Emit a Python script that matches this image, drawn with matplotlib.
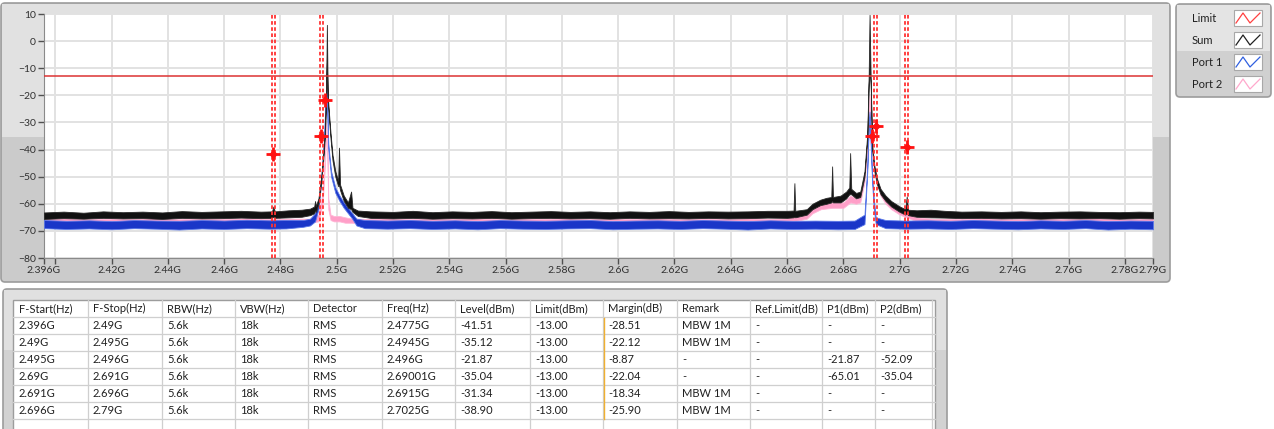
import numpy as np
import matplotlib
matplotlib.use('Agg')
import matplotlib.pyplot as plt
from matplotlib.patches import FancyBboxPatch, Rectangle

plt.rcParams['font.family'] = ['Lato', 'DejaVu Sans']

# Sweep traces, GHz / dBm. Each trace is kept as the min/max envelope of the sweep.
sum_freq = [
    2.396, 2.403, 2.410, 2.417, 2.424, 2.431, 2.438, 2.445, 2.452, 2.459, 2.466, 2.473,
    2.4770, 2.4775, 2.4780, 2.483, 2.4875, 2.4905, 2.4920, 2.4923, 2.4926, 2.4935,
    2.4945, 2.4952, 2.4958, 2.4962, 2.4965, 2.4968, 2.4972, 2.4978, 2.4985, 2.4995,
    2.5005, 2.5008, 2.5012, 2.5025, 2.5040, 2.5051, 2.5056, 2.5075,
    2.512, 2.520, 2.527, 2.534, 2.541, 2.548, 2.555, 2.562, 2.569, 2.576, 2.583, 2.590,
    2.597, 2.604, 2.611, 2.618, 2.625, 2.632, 2.639, 2.646, 2.653, 2.660,
    2.6623, 2.6626, 2.6629, 2.6670, 2.6690, 2.6718, 2.6740, 2.6757, 2.6760, 2.6763,
    2.6790, 2.6810, 2.6821, 2.6824, 2.6828, 2.6845, 2.6860, 2.6875, 2.6885, 2.6890,
    2.6893, 2.6897, 2.6902, 2.6910, 2.6920, 2.6932, 2.6950, 2.6970, 2.7000, 2.7020,
    2.7025, 2.7030, 2.706, 2.711, 2.716, 2.722, 2.729, 2.736, 2.743, 2.750,
    2.757, 2.764, 2.771, 2.778, 2.785, 2.790]
sum_min = [
    -65.6, -65.3, -65.5, -65.2, -65.4, -65.3, -65.6, -65.2, -65.4, -65.3, -65.1, -65.3,
    -65.2, -64.8, -65.2, -65.0, -64.8, -64.2, -63.5, -62.5, -63.0, -60.0,
    -52.0, -44.0, -35.0, -22.0, -8.0, -22.0, -28.0, -36.0, -44.0, -50.0,
    -53.5, -53.0, -55.0, -59.0, -61.5, -62.0, -63.0, -64.5,
    -65.2, -65.4, -65.2, -65.5, -65.3, -65.4, -65.2, -65.5, -65.3, -65.2, -65.4, -65.3,
    -65.5, -65.2, -65.4, -65.3, -65.4, -65.2, -65.4, -65.3, -65.1, -65.2,
    -65.0, -64.8, -65.0, -64.0, -62.0, -60.5, -60.0, -59.5, -59.0, -59.5,
    -59.5, -58.0, -56.5, -56.5, -56.5, -58.0, -57.5, -50.0, -36.0, -16.0,
    -10.0, -16.0, -40.0, -48.0, -53.0, -56.5, -59.0, -61.0, -63.0, -64.0,
    -63.5, -64.2, -64.8, -65.0, -65.1, -65.3, -65.2, -65.4, -65.3, -65.5,
    -65.3, -65.4, -65.3, -65.5, -65.3, -65.4]
sum_max = [
    -63.2, -62.9, -63.3, -62.8, -63.1, -62.9, -63.2, -62.7, -63.0, -62.8, -62.6, -62.9,
    -62.8, -61.0, -62.8, -62.4, -62.2, -61.8, -61.0, -59.0, -60.8, -58.0,
    -50.0, -42.0, -33.0, -20.0, 6.0, -20.0, -26.0, -34.0, -42.0, -48.0,
    -51.5, -39.3, -53.0, -57.0, -59.5, -55.5, -61.5, -62.5,
    -62.8, -63.0, -62.6, -63.1, -62.8, -63.0, -62.7, -63.1, -62.9, -62.7, -63.0, -62.8,
    -63.1, -62.8, -63.0, -62.7, -63.0, -62.8, -62.9, -62.8, -62.6, -62.6,
    -62.5, -52.4, -62.6, -62.0, -60.0, -58.5, -57.8, -57.5, -46.2, -57.5,
    -57.0, -55.5, -54.0, -41.3, -54.5, -56.0, -55.5, -48.0, -34.0, -12.0,
    9.7, -14.0, -38.0, -46.0, -51.0, -54.5, -57.0, -59.0, -61.0, -62.0,
    -57.3, -62.2, -62.4, -62.2, -62.6, -62.9, -62.8, -63.0, -62.8, -63.1,
    -62.9, -62.8, -63.0, -63.1, -62.9, -63.0]

p1_freq = [
    2.396, 2.404, 2.412, 2.420, 2.428, 2.436, 2.444, 2.452, 2.460, 2.468, 2.476, 2.482,
    2.4880, 2.4905, 2.4923, 2.4935, 2.4945, 2.4955, 2.4960, 2.4965, 2.4970, 2.4980,
    2.4995, 2.5010, 2.5025, 2.5040, 2.5055, 2.5070, 2.510, 2.518, 2.526, 2.534,
    2.542, 2.550, 2.558, 2.566, 2.574, 2.582, 2.590, 2.598, 2.606, 2.614,
    2.622, 2.630, 2.638, 2.646, 2.654, 2.662, 2.670, 2.678, 2.684, 2.6875,
    2.6885, 2.6890, 2.6893, 2.6897, 2.6902, 2.6908, 2.6915, 2.695, 2.702, 2.710,
    2.718, 2.726, 2.734, 2.742, 2.750, 2.758, 2.766, 2.774, 2.782, 2.790]
p1_min = [
    -69.0, -69.3, -69.1, -69.4, -69.0, -69.2, -69.5, -69.1, -69.3, -69.0, -69.2, -69.1,
    -68.5, -68.0, -66.5, -62.0, -52.0, -38.0, -24.0, -20.0, -40.0, -50.0,
    -56.0, -59.0, -61.5, -63.5, -65.5, -68.0, -69.0, -69.2, -69.0, -69.3,
    -69.1, -69.4, -69.0, -69.2, -69.3, -69.1, -69.0, -69.4, -69.2, -69.1,
    -69.3, -69.0, -69.2, -69.5, -69.1, -69.3, -69.2, -69.4, -69.3, -67.5,
    -48.0, -32.0, -28.0, -38.0, -52.0, -62.0, -67.5, -69.0, -69.2, -69.1,
    -69.3, -69.0, -69.2, -69.4, -69.1, -69.3, -69.0, -69.5, -69.2, -69.4]
p1_max = [
    -66.0, -66.3, -66.1, -66.4, -66.0, -66.2, -66.3, -66.0, -66.2, -65.9, -66.1, -66.0,
    -66.0, -65.5, -63.5, -60.0, -50.0, -36.0, -21.87, -18.0, -38.0, -48.0,
    -54.0, -57.0, -59.5, -61.5, -63.5, -65.5, -66.0, -66.2, -66.0, -66.3,
    -66.1, -66.4, -66.0, -66.2, -66.3, -66.1, -66.0, -66.4, -66.2, -66.1,
    -66.3, -66.0, -66.2, -66.4, -66.1, -66.3, -66.2, -66.3, -66.2, -64.0,
    -46.0, -30.0, -26.0, -36.0, -50.0, -58.0, -65.0, -66.0, -66.2, -66.1,
    -66.3, -66.0, -66.2, -66.4, -66.1, -66.3, -66.0, -66.4, -66.2, -66.3]

p2_freq = [
    2.396, 2.404, 2.412, 2.420, 2.428, 2.436, 2.444, 2.452, 2.460, 2.468, 2.476, 2.484,
    2.4905, 2.4935, 2.4950, 2.4958, 2.4962, 2.4966, 2.4970, 2.4978, 2.4990, 2.5010,
    2.5030, 2.5050, 2.510, 2.518, 2.526, 2.534, 2.542, 2.550, 2.558, 2.566,
    2.574, 2.582, 2.590, 2.598, 2.606, 2.614, 2.622, 2.630, 2.638, 2.646,
    2.654, 2.660, 2.6670, 2.6690, 2.6720, 2.6760, 2.6800, 2.6825, 2.6845, 2.6860,
    2.6875, 2.6885, 2.6893, 2.6900, 2.6905, 2.6915, 2.6932, 2.6950, 2.6970, 2.7000,
    2.7025, 2.7060, 2.712, 2.720, 2.730, 2.740, 2.750, 2.760, 2.770, 2.780, 2.790]
p2_min = [
    -67.2, -67.0, -67.3, -67.1, -67.2, -67.0, -67.3, -67.1, -67.2, -67.0, -67.2, -67.1,
    -67.0, -66.5, -60.0, -46.0, -34.0, -38.0, -62.0, -66.0, -66.5, -66.5,
    -67.0, -67.0, -67.2, -67.0, -67.3, -67.1, -67.2, -67.0, -67.3, -67.1,
    -67.2, -67.0, -67.3, -67.1, -67.2, -67.0, -67.3, -67.1, -67.2, -67.0,
    -67.2, -67.0, -65.5, -63.5, -62.0, -61.5, -61.5, -59.5, -60.0, -59.5,
    -52.0, -40.0, -30.0, -37.0, -44.0, -51.0, -57.0, -60.0, -62.0, -64.0,
    -65.0, -66.5, -67.0, -67.2, -67.0, -67.3, -67.1, -67.2, -67.0, -67.3, -67.1]
p2_max = [
    -65.6, -65.4, -65.7, -65.5, -65.6, -65.4, -65.7, -65.5, -65.6, -65.4, -65.6, -65.5,
    -65.5, -64.0, -56.0, -42.0, -30.0, -34.0, -58.0, -64.0, -64.5, -64.5,
    -65.0, -65.4, -65.6, -65.4, -65.7, -65.5, -65.6, -65.4, -65.7, -65.5,
    -65.6, -65.4, -65.7, -65.5, -65.6, -65.4, -65.7, -65.5, -65.6, -65.4,
    -65.6, -65.4, -63.5, -61.5, -60.0, -59.5, -59.5, -57.0, -58.0, -57.5,
    -50.0, -38.0, -20.0, -35.04, -42.0, -49.0, -55.0, -58.0, -60.0, -62.0,
    -63.0, -65.0, -65.6, -65.6, -65.4, -65.7, -65.5, -65.6, -65.4, -65.7, -65.5]

limit_dbm = -13.0
mbw_ghz = 0.001

# Result table rows
f_start = ['2.396G', '2.49G', '2.495G', '2.69G', '2.691G', '2.696G']
f_stop = ['2.49G', '2.495G', '2.496G', '2.691G', '2.696G', '2.79G']
rbw = ['5.6k'] * 6
vbw = ['18k'] * 6
detector = ['RMS'] * 6
peak_freq = [2.4775, 2.4945, 2.496, 2.69001, 2.6915, 2.7025]
peak_level = [-41.51, -35.12, -21.87, -35.04, -31.34, -38.90]
remark = ['MBW 1M', 'MBW 1M', '-', '-', 'MBW 1M', 'MBW 1M']
ref_limit = ['-'] * 6
p1_dbm = ['-', '-', '-21.87', '-65.01', '-', '-']
p2_dbm = ['-', '-', '-52.09', '-35.04', '-', '-']

headers = ['F-Start(Hz)', 'F-Stop(Hz)', 'RBW(Hz)', 'VBW(Hz)', 'Detector', 'Freq(Hz)',
           'Level(dBm)', 'Limit(dBm)', 'Margin(dB)', 'Remark', 'Ref.Limit(dB)',
           'P1(dBm)', 'P2(dBm)']

W, H = 1274, 429
fig = plt.figure(figsize=(W / 100, H / 100), dpi=100)
fig.patch.set_facecolor('white')

# pixel-space canvas for the panels, legend and table
bg = fig.add_axes([0, 0, 1, 1], zorder=0)
bg.set_xlim(0, W)
bg.set_ylim(H, 0)
bg.axis('off')


def panel(x, y, w, h, split, top_c, low_c):
    bg.add_patch(FancyBboxPatch((x, y), w, h, boxstyle='round,pad=0,rounding_size=4',
                                fc=low_c, ec='#9c9c9c', lw=1.2))
    bg.add_patch(Rectangle((x + 1, y + 1), w - 2, split - y - 1, fc=top_c, ec='none'))


panel(1, 3, 1169, 279, 137, '#e1e1e1', '#cbcbcb')
panel(1176, 4, 95, 93, 51, '#e4e4e4', '#d0d0d0')
panel(3, 289, 944, 146, 350, '#e0e0e0', '#d2d2d2')

# legend entries
legend_items = [('Limit', '#ff4040'), ('Sum', '#202020'), ('Port 1', '#3060e0'), ('Port 2', '#ffa8cc')]
for i, (name, c) in enumerate(legend_items):
    yc = 18 + i * 22
    bg.text(1192, yc, name, fontsize=8, color='#202020', va='center', ha='left')
    bg.add_patch(Rectangle((1234, yc - 8), 28, 16, fc='white', ec='#a8a8a8', lw=0.8))
    bg.plot([1236, 1243, 1250, 1260], [yc + 5, yc - 5, yc + 5, yc - 5], color=c, lw=0.9)

# result table
col_x = [14, 88, 162, 235, 308, 382, 455, 530, 603, 677, 750, 822, 875, 932]
row_y0, row_h = 300, 17
bg.add_patch(Rectangle((13, 300), 922, 140, fc='white', ec='#9c9c9c', lw=1))
for x in col_x[1:]:
    bg.plot([x, x], [row_y0, H], color='#cfcfcf', lw=0.9)
for r in range(1, 8):
    bg.plot([13, 935], [row_y0 + r * row_h] * 2, color='#cfcfcf', lw=0.9)
bg.plot([col_x[8] + 0.5] * 2, [row_y0 + row_h + 1, row_y0 + 7 * row_h], color='#f0b030', lw=1)

rows = []
for i in range(6):
    margin = peak_level[i] - limit_dbm
    rows.append([f_start[i], f_stop[i], rbw[i], vbw[i], detector[i], f'{peak_freq[i]:g}G',
                 f'{peak_level[i]:.2f}', f'{limit_dbm:.2f}', f'{margin:.2f}', remark[i],
                 ref_limit[i], p1_dbm[i], p2_dbm[i]])

for j, h in enumerate(headers):
    bg.text(col_x[j] + 5, row_y0 + row_h / 2, h, fontsize=8, color='#202020', va='center')
for i, row in enumerate(rows):
    for j, val in enumerate(row):
        bg.text(col_x[j] + 5, row_y0 + (i + 1.5) * row_h, val, fontsize=8,
                color='#202020', va='center')

# spectrum plot
ax = fig.add_axes([44 / W, (H - 258) / H, 1109 / W, 244 / H], zorder=2)
ax.set_facecolor('white')
ax.set_xlim(2.396, 2.79)
ax.set_ylim(-80, 10)

xt = [2.396] + [round(v, 2) for v in np.arange(2.40, 2.781, 0.02)] + [2.79]
ax.set_xticks(xt)
ax.set_xticklabels(['' if t == 2.40 else f'{t:g}G' for t in xt])
ax.set_yticks(np.arange(-80, 11, 10))
ax.grid(True, color='#e2e2e2', lw=1.4)
ax.set_axisbelow(True)
ax.tick_params(direction='out', length=4, width=1, color='#505050', labelsize=7.5,
               labelcolor='#303030', pad=2)
for s in ('top', 'right'):
    ax.spines[s].set_visible(False)
for s in ('left', 'bottom'):
    ax.spines[s].set_color('#8a8a8a')

traces = [
    (p2_freq, p2_min, p2_max, '#ff9fc8', '#ffb6d6', 2),
    (p1_freq, p1_min, p1_max, '#1a36c8', '#5a78e8', 3),
    (sum_freq, sum_min, sum_max, '#111111', '#2a2a2a', 4),
]
for f, lo, hi, fc, ec, z in traces:
    ax.fill_between(f, lo, hi, facecolor=fc, edgecolor=ec, lw=0.6, zorder=z)

ax.axhline(limit_dbm, color='#dd3333', lw=1.1, zorder=5)

# measurement bandwidth edges around each MBW marker
for f, rem in zip(peak_freq, remark):
    if rem == 'MBW 1M':
        for e in (f - mbw_ghz / 2, f + mbw_ghz / 2):
            ax.axvline(e, color='#ff3333', lw=1.3, ls=(0, (2, 1.4)), zorder=6)

ax.plot(peak_freq, peak_level, ls='none', marker='+', ms=10, mew=2, color='#ff1111', zorder=7)
ax.plot(peak_freq, peak_level, ls='none', marker='D', ms=3.5, color='#ff1111', zorder=7)

fig.savefig('out.png', dpi=100)
